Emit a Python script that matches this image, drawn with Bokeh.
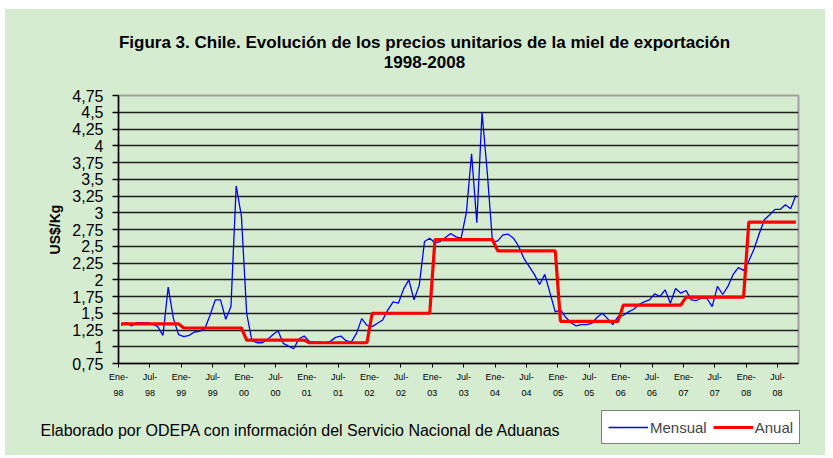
from bokeh.plotting import figure
from bokeh.layouts import column
from bokeh.models import FixedTicker, Label, Legend, LegendItem, ColumnDataSource, Range1d
from bokeh.embed import file_html
from bokeh.resources import INLINE

# Monthly unit prices (US$/Kg), Jan 1998 .. Oct 2008
mensual_1998 = [1.32, 1.36, 1.31, 1.36, 1.36, 1.36, 1.34, 1.30, 1.17, 1.89, 1.42, 1.18]
mensual_1999 = [1.15, 1.17, 1.22, 1.23, 1.27, 1.47, 1.70, 1.70, 1.41, 1.60, 3.40, 2.95]
mensual_2000 = [1.50, 1.09, 1.06, 1.06, 1.11, 1.18, 1.24, 1.05, 1.01, 0.97, 1.12, 1.16]
mensual_2001 = [1.08, 1.07, 1.07, 1.06, 1.08, 1.14, 1.16, 1.09, 1.07, 1.20, 1.42, 1.32]
mensual_2002 = [1.30, 1.35, 1.40, 1.55, 1.67, 1.65, 1.86, 2.00, 1.70, 1.92, 2.57, 2.62]
mensual_2003 = [2.55, 2.57, 2.63, 2.69, 2.64, 2.62, 3.00, 3.88, 2.85, 4.50, 3.60, 2.56]
mensual_2004 = [2.58, 2.67, 2.68, 2.62, 2.50, 2.32, 2.20, 2.08, 1.93, 2.08, 1.80, 1.52]
mensual_2005 = [1.55, 1.44, 1.36, 1.31, 1.33, 1.33, 1.35, 1.44, 1.50, 1.42, 1.33, 1.45]
mensual_2006 = [1.47, 1.52, 1.56, 1.63, 1.67, 1.70, 1.79, 1.75, 1.85, 1.65, 1.87, 1.80]
mensual_2007 = [1.84, 1.70, 1.69, 1.73, 1.72, 1.60, 1.90, 1.78, 1.90, 2.08, 2.18, 2.14]
mensual_2008 = [2.28, 2.46, 2.69, 2.90, 2.97, 3.05, 3.05, 3.12, 3.06, 3.26]

# Annual average unit prices (US$/Kg), 1998 .. 2008
anual = [1.34, 1.28, 1.10, 1.06, 1.50, 2.60, 2.43, 1.38, 1.62, 1.74, 2.86]

x_tick_labels = ["Ene-\n98", "Jul-\n98", "Ene-\n99", "Jul-\n99", "Ene-\n00", "Jul-\n00",
                 "Ene-\n01", "Jul-\n01", "Ene-\n02", "Jul-\n02", "Ene-\n03", "Jul-\n03",
                 "Ene-\n04", "Jul-\n04", "Ene-\n05", "Jul-\n05", "Ene-\n06", "Jul-\n06",
                 "Ene-\n07", "Jul-\n07", "Ene-\n08", "Jul-\n08"]
y_ticks = [0.75, 1.0, 1.25, 1.5, 1.75, 2.0, 2.25, 2.5, 2.75, 3.0, 3.25, 3.5, 3.75, 4.0, 4.25, 4.5, 4.75]
y_tick_labels = ["0,75", "1", "1,25", "1,5", "1,75", "2", "2,25", "2,5", "2,75", "3",
                 "3,25", "3,5", "3,75", "4", "4,25", "4,5", "4,75"]

title_1 = "Figura 3. Chile. Evolución de los precios unitarios de la miel de exportación"
title_2 = "1998-2008"
y_title = "US$/Kg"
footnote = "Elaborado por ODEPA con información del Servicio Nacional de Aduanas"
series_names = ["Mensual", "Anual"]

yearly = [mensual_1998, mensual_1999, mensual_2000, mensual_2001, mensual_2002, mensual_2003,
          mensual_2004, mensual_2005, mensual_2006, mensual_2007, mensual_2008]
mensual = [v for year in yearly for v in year]
anual_mensual = [a for a, year in zip(anual, yearly) for _ in year]
xs = [i + 0.5 for i in range(len(mensual))]
n_months = len(mensual)

src = ColumnDataSource(dict(x=xs, mensual=mensual, anual=anual_mensual))

BG = "#d6ecd0"
FONT = "Liberation Sans"
BLUE = "#0000ff"
RED = "#ff0000"
W = 820


def blank(height, y0=0, y1=1):
    f = figure(width=W, height=height, output_backend="svg", toolbar_location=None, title=None,
               x_range=Range1d(0, 1), y_range=Range1d(y0, y1), x_axis_type=None, y_axis_type=None,
               min_border=0, frame_align=False)
    f.background_fill_color = BG
    f.border_fill_color = BG
    f.outline_line_color = None
    f.xgrid.visible = False
    f.ygrid.visible = False
    return f


# ---------- header ----------
head = blank(71)
head.add_layout(Label(x=419, y=38, x_units="screen", y_units="screen", text=title_1,
                      text_align="center", text_baseline="middle", text_font=FONT,
                      text_font_size="17px", text_font_style="bold", text_color="#000000"))
head.add_layout(Label(x=419, y=19, x_units="screen", y_units="screen", text=title_2,
                      text_align="center", text_baseline="middle", text_font=FONT,
                      text_font_size="17px", text_font_style="bold", text_color="#000000"))

# ---------- main chart ----------
p = figure(width=W, height=326, output_backend="svg", toolbar_location=None, title=None,
           x_range=Range1d(0, n_months), y_range=Range1d(y_ticks[0], y_ticks[-1]),
           min_border_left=113, min_border_right=27, min_border_top=15, min_border_bottom=43,
           frame_align=False)
p.background_fill_color = BG
p.border_fill_color = BG
p.outline_line_color = "#a0a0a0"
p.outline_line_width = 2

r_m = p.line("x", "mensual", source=src, line_color=BLUE, line_width=1.3)
r_a = p.line("x", "anual", source=src, line_color=RED, line_width=3.2)

p.yaxis.ticker = FixedTicker(ticks=y_ticks)
p.yaxis.major_label_overrides = {t: l for t, l in zip(y_ticks, y_tick_labels)}
p.yaxis.major_label_text_font = FONT
p.yaxis.major_label_text_font_size = "16px"
p.yaxis.major_label_text_color = "#000000"
p.yaxis.major_tick_out = 6
p.yaxis.major_tick_in = 0
p.yaxis.minor_tick_line_color = None
p.yaxis.axis_line_color = "#000000"
p.yaxis.axis_line_width = 1.5
p.yaxis.major_tick_line_width = 1.5
p.yaxis.major_label_standoff = 9
p.yaxis.axis_label = y_title
p.yaxis.axis_label_text_font = FONT
p.yaxis.axis_label_text_font_size = "14px"
p.yaxis.axis_label_text_font_style = "bold"
p.yaxis.axis_label_text_color = "#000000"
p.yaxis.axis_label_standoff = 6

x_ticks = list(range(0, n_months, 6))
p.xaxis.ticker = FixedTicker(ticks=x_ticks)
p.xaxis.major_label_overrides = {t: l for t, l in zip(x_ticks, x_tick_labels)}
p.xaxis.major_label_text_font = FONT
p.xaxis.major_label_text_font_size = "9px"
p.xaxis.major_label_text_line_height = 1.6
p.xaxis.major_label_text_color = "#000000"
p.xaxis.major_tick_out = 4
p.xaxis.major_tick_in = 0
p.xaxis.minor_tick_line_color = None
p.xaxis.axis_line_color = "#000000"
p.xaxis.axis_line_width = 1.5
p.xaxis.major_label_standoff = 4

p.xgrid.visible = False
p.ygrid.ticker = FixedTicker(ticks=y_ticks[1:-1])
p.ygrid.grid_line_color = "#1e1e1e"
p.ygrid.grid_line_width = 1.5

# ---------- footer: source note and legend ----------
# the footer's y range lies far above the data, so its copies of the series only feed the legend
foot = blank(49, y0=10, y1=11)
foot.add_layout(Label(x=35, y=25, x_units="screen", y_units="screen", text=footnote,
                      text_align="left", text_baseline="middle", text_font=FONT,
                      text_font_size="16px", text_color="#000000"))
k_m = foot.line("x", "mensual", source=src, line_color=BLUE, line_width=1.3)
k_a = foot.line("x", "anual", source=src, line_color=RED, line_width=3.2)
legend = Legend(items=[LegendItem(label=series_names[0], renderers=[k_m]),
                       LegendItem(label=series_names[1], renderers=[k_a])],
                location=(596, 11), orientation="horizontal")
legend.background_fill_color = "#ffffff"
legend.background_fill_alpha = 1
legend.border_line_color = "#000000"
legend.border_line_width = 1
legend.label_text_font = FONT
legend.label_text_font_size = "15px"
legend.glyph_width = 40
legend.label_standoff = 2
legend.spacing = 6
legend.padding = 6
legend.margin = 0
foot.add_layout(legend, "center")

layout = column(head, p, foot, spacing=0, margin=(9, 0, 0, 5),
                styles={"background-color": BG})
open("out.html", "w").write(file_html(layout, INLINE))
